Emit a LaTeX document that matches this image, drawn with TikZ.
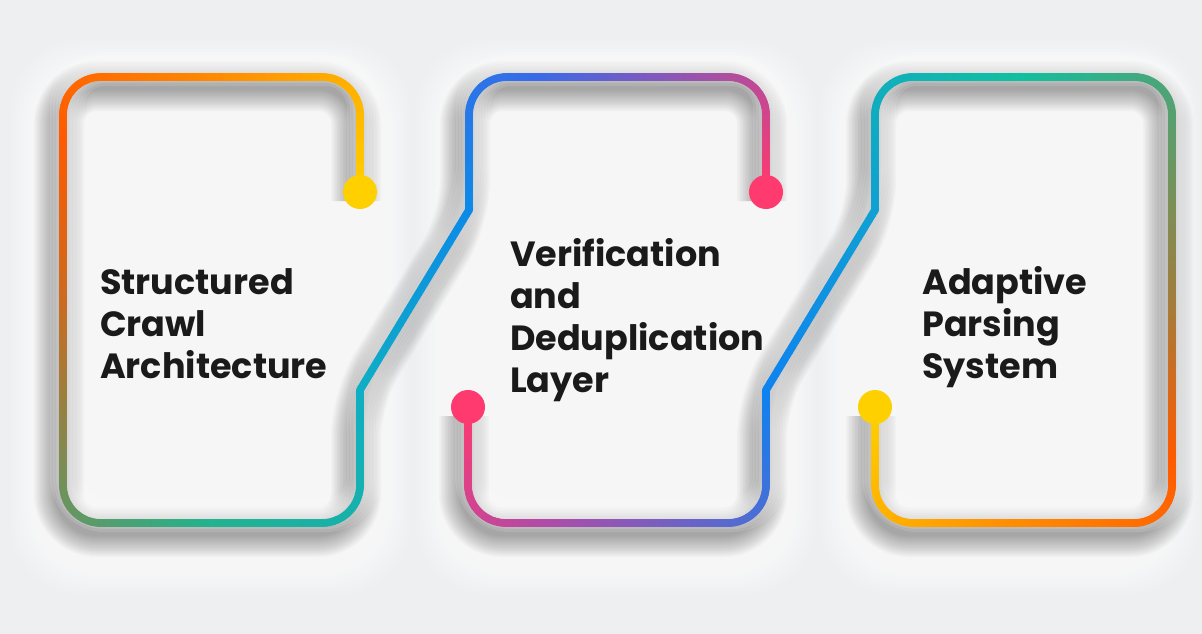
\documentclass[tikz,border=0pt]{standalone}
\usepackage{fontspec}
\setmainfont{Poppins}
\usetikzlibrary{decorations.markings}
\definecolor{bgc}{HTML}{EEEFF1}
\definecolor{txtc}{HTML}{1A1A1A}
\definecolor{cY}{HTML}{FFD000}
\definecolor{cO1}{HTML}{FF8A00}
\definecolor{cO2}{HTML}{FF5A00}
\definecolor{cBr}{HTML}{CC6A1E}
\definecolor{cGT}{HTML}{22B38E}
\definecolor{cCy}{HTML}{0EAFC4}
\definecolor{cB1}{HTML}{0C8AE8}
\definecolor{cB2}{HTML}{3A6AE8}
\definecolor{cR}{HTML}{FF3A6E}
\definecolor{cMg}{HTML}{B44AA6}
\definecolor{cB3}{HTML}{0E82F0}
\definecolor{cB4}{HTML}{0FA0D4}
\definecolor{cT}{HTML}{10C0A0}
\definecolor{cOl}{HTML}{A07E3E}
\newcommand\gpath[3]{%
  \path[rounded corners=38pt, postaction={decorate}, decoration={markings,
    mark=between positions 0 and 1 step 1.5pt with {%
      \pgfmathsetmacro\gq{\pgfkeysvalueof{/pgf/decoration/mark info/distance from start}/\pgfdecoratedpathlength}%
      \pgfmathtruncatemacro\gp{round(100*min(1,\gq))}%
      \fill[#2!\gp!#1] (0,0) circle (4pt);}}] #3;}
\tikzset{
  txt/.style={font=\fontsize{35}{42}\selectfont\bfseries, text=txtc, align=left, inner sep=0pt},
  dotn/.style={circle, minimum size=34pt, inner sep=0pt},
}
\begin{document}
\begin{tikzpicture}[x=1pt, y=-1pt]
\fill[bgc] (0,0) rectangle (1202,634);
\useasboundingbox (0,0) rectangle (1202,634);
% light halos
\foreach \d in {0,3,...,24}{
  \fill[white, opacity=0.1, rounded corners=70pt] (10+\d,40+\d) rectangle (410-\d,594-\d);
  \fill[white, opacity=0.1, rounded corners=70pt] (416+\d,40+\d) rectangle (816-\d,594-\d);
  \fill[white, opacity=0.1, rounded corners=70pt] (820+\d,40+\d) rectangle (1200-\d,594-\d);
}
% soft shadows of the lines
\foreach \w in {8,11,...,50}{
  \draw[line width=\w pt, black, opacity=0.024, rounded corners=38pt, shift={(-4,9)}]
    (360,192) -- (360,77) -- (63,77) -- (63,523) -- (360,523) -- (360,390) -- (469,210) -- (469,77) -- (766,77) -- (766,192);
  \draw[line width=\w pt, black, opacity=0.024, rounded corners=38pt, shift={(-4,9)}]
    (468,407) -- (468,523) -- (766,523) -- (766,390) -- (875,210) -- (875,77) -- (1172,77) -- (1172,523) -- (875,523) -- (875,407);
}
% highlights
\foreach \w in {10,16,...,34}{
  \draw[line width=\w pt, white, opacity=0.12, rounded corners=38pt, shift={(4,-8)}]
    (360,192) -- (360,77) -- (63,77) -- (63,523) -- (360,523) -- (360,390) -- (469,210) -- (469,77) -- (766,77) -- (766,192);
  \draw[line width=\w pt, white, opacity=0.12, rounded corners=38pt, shift={(4,-8)}]
    (468,407) -- (468,523) -- (766,523) -- (766,390) -- (875,210) -- (875,77) -- (1172,77) -- (1172,523) -- (875,523) -- (875,407);
}
% gradient line A
\gpath{cY}{cO1}{(360,192) -- (360,77) -- (210,77)}
\gpath{cO1}{cO2}{(210,77) -- (63,77) -- (63,140)}
\gpath{cO2}{cBr}{(63,140) -- (63,300)}
\gpath{cBr}{cGT}{(63,300) -- (63,523) -- (210,523)}
\gpath{cGT}{cCy}{(210,523) -- (360,523) -- (360,390)}
\gpath{cCy}{cB1}{(360,390) -- (469,210)}
\gpath{cB1}{cB2}{(469,210) -- (469,77) -- (540,77)}
\gpath{cB2}{cR}{(540,77) -- (766,77) -- (766,192)}
% gradient line B
\gpath{cR}{cMg}{(468,407) -- (468,523) -- (540,523)}
\gpath{cMg}{cB3}{(540,523) -- (766,523) -- (766,390)}
\gpath{cB3}{cB4}{(766,390) -- (875,210)}
\gpath{cB4}{cT}{(875,210) -- (875,77) -- (1020,77)}
\gpath{cT}{cOl}{(1020,77) -- (1172,77) -- (1172,300)}
\gpath{cOl}{cO2}{(1172,300) -- (1172,460)}
\gpath{cO2}{cO1}{(1172,460) -- (1172,523) -- (1020,523)}
\gpath{cO1}{cY}{(1020,523) -- (875,523) -- (875,407)}
% end dots
\node[dotn, fill=cY] (d1) at (360,192) {};
\node[dotn, fill=cR] (d2) at (766,192) {};
\node[dotn, fill=cR] (d3) at (468,407) {};
\node[dotn, fill=cY] (d4) at (875,407) {};
% texts (base anchor = baseline of last line)
\node[txt, anchor=base west] (t1) at (100,378) {Structured\\Crawl\\Architecture};
\node[txt, anchor=base west] (t2) at (510,392) {Verification\\and\\Deduplication\\Layer};
\node[txt, anchor=base west] (t3) at (922,378) {Adaptive\\Parsing\\System};
\end{tikzpicture}
\end{document}
